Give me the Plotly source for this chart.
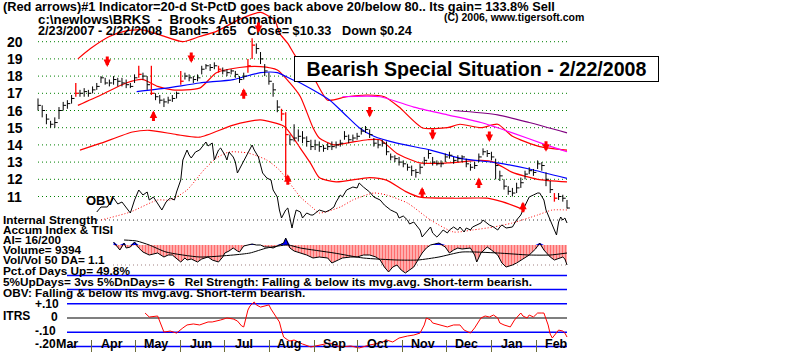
import numpy as np
import pandas as pd
import plotly.graph_objects as go

# ---------------- data ----------------
START = pd.Timestamp("2007-02-23")
END = pd.Timestamp("2008-02-22")
N_TRADING = 252  # trading days in the window

# price bars, one every 2 trading days
CLOSE = [16.3,16.0,15.5,15.2,15.3,16.0,16.3,16.4,16.7,17.0,
         17.0,17.1,17.0,17.2,17.4,17.9,17.6,17.6,17.8,17.7,
         17.6,17.5,17.4,17.9,18.1,18.0,17.5,17.0,16.8,16.6,
         16.5,16.6,16.7,17.0,17.7,18.0,17.9,17.8,17.9,18.4,
         18.6,18.5,18.6,18.4,18.3,18.2,18.3,18.1,17.8,18.0,
         18.6,19.8,19.6,19.0,18.3,17.7,17.2,16.2,15.8,14.6,
         14.3,14.4,14.5,14.4,14.2,13.9,14.0,13.9,13.8,13.9,
         13.9,14.0,14.1,14.5,14.3,14.4,14.5,14.8,14.9,14.6,
         14.1,14.0,14.1,13.6,13.3,13.2,13.0,12.9,12.7,12.5,
         12.4,12.7,13.1,13.5,13.0,12.9,12.9,13.3,13.4,13.1,
         13.2,13.3,12.9,12.7,12.8,13.3,13.6,13.5,13.3,12.8,
         12.2,11.6,11.3,11.2,11.5,11.8,12.3,12.5,12.4,12.9,
         12.8,12.0,11.4,10.9,11.0,10.9,10.33]
HIGH = [16.7,16.3,15.8,15.4,15.6,16.2,16.5,16.6,16.9,17.6,
        17.2,17.3,17.2,17.4,17.6,18.0,17.9,17.8,18.0,17.9,
        17.9,17.8,17.6,18.1,18.6,18.2,18.0,18.6,17.0,16.9,
        16.7,16.8,16.9,17.1,18.3,18.2,18.1,18.0,18.1,18.6,
        18.7,18.7,18.8,18.6,18.5,18.4,18.4,18.3,18.0,18.2,
        19.0,20.2,19.9,19.4,18.7,18.2,17.6,16.6,16.1,15.9,
        14.6,15.2,14.9,14.8,14.5,14.3,14.3,14.2,14.0,14.1,
        14.2,14.2,14.3,14.8,14.6,14.6,14.7,15.0,15.1,14.9,
        14.4,14.3,14.3,14.2,13.5,13.4,13.3,13.1,12.9,12.8,
        12.6,12.9,13.3,13.7,13.3,13.1,13.1,13.5,13.6,13.3,
        13.4,13.4,13.2,12.9,13.0,13.5,13.8,13.7,13.6,13.2,
        12.5,12.0,11.6,11.5,11.8,12.1,12.5,12.7,12.6,13.1,
        13.0,12.4,11.9,11.2,11.2,11.1,10.8]
LOW = [16.0,15.6,15.2,15.0,15.0,15.5,16.0,16.1,16.4,16.8,
       16.8,16.8,16.8,17.0,17.2,17.6,17.5,17.4,17.5,17.4,
       17.4,17.3,17.3,17.6,17.9,17.8,17.2,16.9,16.6,16.4,
       16.2,16.4,16.5,16.7,17.5,17.8,17.7,17.6,17.7,18.1,
       18.4,18.3,18.4,18.2,18.1,18.0,18.1,17.9,17.6,17.8,
       18.2,19.0,19.3,18.7,18.0,17.5,16.8,15.9,15.4,12.0,
       14.0,14.2,14.2,14.1,13.9,13.7,13.7,13.6,13.6,13.7,
       13.7,13.8,13.9,14.3,14.1,14.2,14.3,14.6,14.7,14.4,
       13.9,13.8,13.9,13.4,13.1,13.0,12.8,12.7,12.5,12.2,
       12.1,12.3,12.8,13.2,12.8,12.8,12.7,13.0,13.2,12.9,
       13.0,13.0,12.7,12.5,12.6,13.0,13.4,13.3,13.1,12.0,
       11.9,11.4,11.1,11.0,11.2,11.5,12.0,12.3,12.2,12.6,
       12.5,11.6,11.2,10.7,10.8,10.7,10.3]
RED_BARS = [9, 24, 27, 34, 43, 50, 51, 58, 59, 123]

# band / moving-average lines (trading-day index, price)
UPPER_T = [19,25,34,41,49,58,69,77,85,96,106,113,115,119,123,130,138,147,157,165,172,183,195,201,211,219,226,239,252]
UPPER_V = [19.0,19.6,20.3,20.6,20.7,20.4,20.0,20.3,20.6,21.3,21.7,21.2,20.5,19.9,19.1,18.2,16.6,16.8,16.9,16.8,16.2,15.0,15.0,15.2,15.0,15.2,14.5,13.9,13.7]
MID_T = [19,30,42,50,57,64,77,85,96,106,114,120,125,131,134,141,149,157,163,171,182,195,211,217,226,238,252]
MID_V = [16.3,16.9,17.6,17.8,17.4,17.2,17.3,18.2,18.5,18.55,18.35,17.6,16.8,15.0,14.4,14.0,14.15,14.3,14.3,13.5,12.95,12.95,13.1,13.0,12.4,12.0,11.85]
LOWER_T = [20,30,45,53,66,77,93,106,117,120,125,130,134,142,158,166,175,182,198,214,221,228,232]
LOWER_V = [13.7,14.1,14.75,14.85,14.6,14.45,15.15,15.45,15.1,14.7,13.8,12.9,12.1,11.85,12.1,11.95,11.3,10.96,10.9,10.9,10.7,10.4,10.2]
BLUE_T = [47,61,77,93,106,114,121,125,139,146,153,160,171,187,202,219,234,252]
BLUE_V = [17.1,17.3,17.6,17.8,18.2,18.2,17.8,17.6,16.6,15.8,15.0,14.5,14.1,13.7,13.2,12.95,12.6,12.05]
MAG_T = [145,163,179,195,211,226,242,252]
MAG_V = [16.8,16.8,16.2,15.75,15.3,14.7,14.0,13.6]
PURP_T = [198,219,234,252]
PURP_V = [16.0,15.75,15.3,14.7]

# signal arrows (trading-day index, price at arrow tip)
DOWN_T = [33,73,105,158,188,215,242]
DOWN_P = [18.53,18.76,20.5,15.6,14.28,14.17,13.6]
UP_T = [55,98,119,183,210,231]
UP_P = [16.0,17.3,12.3,11.55,12.1,10.7]

# On-balance volume and its moving average (arbitrary units)
OBV_T = [28,30,33,36,38,40,44,46,48,50,52,53,55,57,59,61,63,65,66,68,
         69,71,72,73,75,77,79,80,81,83,84,86,87,89,90,91,93,94,95,97,
         99,101,102,103,105,107,109,111,112,114,115,116,118,119,120,121,122,123,125,126,
         128,130,131,133,134,137,139,141,142,144,145,147,149,150,152,153,155,157,158,160,
         161,163,165,166,168,170,171,172,174,176,177,179,181,182,183,185,187,188,190,191,
         193,195,196,198,200,201,203,204,206,207,209,211,212,214,215,217,219,220,221,223,
         225,226,228,230,231,233,234,236,238,239,241,242,244,245,247,248,249,250,251,252]
OBV_V = [28,33,33,42,36,38,27,40,50,45,48,40,43,36,30,38,42,40,48,60,
         80,90,85,82,88,90,95,98,94,97,80,90,92,85,80,88,83,78,67,75,
         83,90,95,90,83,67,62,60,50,43,30,22,30,32,20,12,22,30,28,22,
         27,25,25,28,30,28,30,33,38,45,43,50,52,53,52,57,53,50,48,43,
         42,40,35,33,30,28,27,22,24,20,16,18,13,10,3,8,13,7,3,5,
         10,7,10,13,10,13,8,12,10,13,15,17,20,17,15,13,10,13,15,12,
         13,13,20,25,30,38,43,45,47,47,40,30,20,15,5,18,23,20,22,17]
OBV_MA_T = [30,44,57,63,71,79,85,91,100,109,115,125,131,134,144,150,160,166,176,187,198,207,217,226,238,245,252]
OBV_MA_V = [20,28,40,40,50,70,82,88,87,80,70,43,32,27,33,40,47,45,37,20,8,10,13,17,25,30,30]

# Accumulation index (arbitrary units) and its average
AI_T = [36,38,39,41,42,44,46,48,50,53,57,60,62,64,66,68,70,71,73,76,
        78,81,83,86,88,89,91,93,95,96,98,100,102,104,106,108,110,112,114,117,
        118,120,122,125,128,131,134,138,140,143,145,149,152,155,158,161,163,165,167,169,
        171,173,175,177,179,181,183,185,187,189,191,194,196,198,200,202,206,208,209,211,
        214,216,219,221,223,226,228,231,234,237,239,241,244,246,249,250,251,252]
AI_V = [3,-2,-5,2,-3,-2,3,-3,-7,-10,-8,-12,-10,-10,-14,-17,-13,-15,-14,-17,
        -14,-12,-15,-17,-12,-8,-6,-3,-6,-7,-1,0,1,0,0,-2,-2,-3,-1,2,
        7,-3,-6,-8,-10,-13,-12,-13,-18,-15,-13,-12,-12,-10,-10,-12,-15,-22,-27,-22,
        -20,-25,-28,-25,-22,-15,-8,-3,0,1,2,-2,-8,-5,-3,-4,-3,-10,-17,-8,
        -2,-5,-10,-18,-22,-20,-18,-14,-10,-4,2,-5,-12,-15,-13,-12,-14,-20]
AI_MA_T = [41,47,53,61,77,93,101,109,119,125,141,155,171,181,191,202,219,234,244,252]
AI_MA_V = [5,4,0,-7,-12,-10,-8,-3,0,-3,-8,-13,-15,-15,-12,-7,-8,-10,-10,-8]

# ITRS (relative strength)
ITRS_T = [51,53,57,60,63,66,69,71,74,77,81,83,87,90,93,95,97,98,100,101,
          103,104,106,108,110,111,113,115,116,117,119,120,122,124,126,130,134,139,144,149,
          153,158,163,166,169,172,176,179,182,184,185,187,188,191,195,198,201,203,206,208,
          211,213,215,217,219,220,222,225,227,230,231,233,234,236,238,240,241,243,244,245,
          247,248,250,251,252]
ITRS_V = [0.035,0.007,0.014,-0.099,-0.092,-0.106,-0.07,-0.049,-0.042,-0.049,
          -0.028,-0.028,-0.014,0,-0.007,-0.021,-0.056,-0.063,0.056,0.085,
          0.113,0.092,0.077,0.085,0.092,0.063,0.014,-0.028,-0.085,-0.134,
          -0.155,-0.162,-0.155,-0.169,-0.183,-0.204,-0.19,-0.176,-0.204,-0.197,
          -0.211,-0.19,-0.176,-0.155,-0.169,-0.141,-0.127,-0.12,-0.106,-0.049,
          0,-0.014,-0.035,-0.049,-0.063,-0.049,-0.049,-0.085,-0.106,-0.07,
          0,0.014,0.007,0.021,0,-0.035,-0.049,-0.063,-0.014,0.035,
          0.014,0,0.021,0.007,0.035,0.035,0.035,-0.049,-0.113,-0.141,
          -0.099,-0.085,-0.092,-0.106,-0.134]

PRICE_TICKS = [20, 19, 18, 17, 16, 15, 14, 13, 12, 11]
ITRS_LEVELS_BLUE = [0.3, 0.2, 0.1, -0.1, -0.2]
MONTH_STARTS = pd.date_range("2007-03-01", "2008-02-01", freq="MS")

# ---------------- helpers ----------------
W, H = 800, 352
FONT = "Arial, Liberation Sans, sans-serif"
NB = "\u00a0"


def tdate(t):
    t = np.asarray(list(t), dtype=float)
    return START + pd.to_timedelta(t * (END - START).days / N_TRADING, unit="D")


def px(x):
    return x / W


def py(y):
    return 1 - y / H


def label(text, x, y, size=12, anchor="left"):
    return dict(text=text, x=px(x), y=py(y), xref="paper", yref="paper",
                xanchor=anchor, yanchor="middle", showarrow=False,
                font=dict(family=FONT, size=size, color="black", weight="bold"))


fig = go.Figure()


def line(T, V, color, width=1, dash=None, yaxis="y", shape="spline"):
    fig.add_trace(go.Scatter(x=tdate(T), y=V, mode="lines", yaxis=yaxis,
                             line=dict(color=color, width=width, dash=dash,
                                       shape=shape, smoothing=0.6),
                             hoverinfo="skip"))


# ---- moving averages / bands (price axis) ----
line(UPPER_T, UPPER_V, "#ff0000", 1.2)
line(MID_T, MID_V, "#ff0000", 1.2)
line(LOWER_T, LOWER_V, "#ff0000", 1.2)
line(BLUE_T, BLUE_V, "#0000ff", 1.2)
line(MAG_T, MAG_V, "#ff00ff", 1.2)
line(PURP_T, PURP_V, "#800080", 1.2)

# ---- price bars ----
bar_dates = tdate(np.arange(len(CLOSE)) * 2)
tick = pd.Timedelta(days=2)


def bar_xy(idx):
    xs, ys = [], []
    for i in idx:
        d = bar_dates[i]
        xs += [d, d, None, d, d + tick, None]
        ys += [LOW[i], HIGH[i], None, CLOSE[i], CLOSE[i], None]
    return xs, ys


black_idx = [i for i in range(len(CLOSE)) if i not in RED_BARS]
bx, by = bar_xy(black_idx)
fig.add_trace(go.Scatter(x=bx, y=by, mode="lines", line=dict(color="black", width=1),
                         hoverinfo="skip"))
rx, ry = bar_xy(RED_BARS)
fig.add_trace(go.Scatter(x=rx, y=ry, mode="lines", line=dict(color="#ff0000", width=1.3),
                         hoverinfo="skip"))

# ---- OBV ----
line(OBV_MA_T, OBV_MA_V, "#ff0000", 1, dash="1px,2px", yaxis="y2")
line(OBV_T, OBV_V, "black", 1, yaxis="y2", shape="linear")

# ---- Accumulation index ----
ai_neg = np.minimum(np.array(AI_V, float), 0)
ai_pos = np.maximum(np.array(AI_V, float), 0)
fig.add_trace(go.Scatter(x=tdate(AI_T), y=ai_neg, yaxis="y3", mode="lines",
                         line=dict(width=0, color="red"), fill="tozeroy",
                         fillcolor="rgba(0,0,0,0)",
                         fillpattern=dict(shape="|", fgcolor="#ff0000", bgcolor="#ffd8d8",
                                          size=3, solidity=0.6),
                         hoverinfo="skip"))
fig.add_trace(go.Scatter(x=tdate(AI_T), y=ai_pos, yaxis="y3", mode="lines",
                         line=dict(width=0, color="blue"), fill="tozeroy",
                         fillcolor="#0000ff", hoverinfo="skip"))
line(AI_MA_T, AI_MA_V, "black", 1, yaxis="y3")
line(AI_T, AI_V, "black", 1, yaxis="y3", shape="linear")

# ---- ITRS ----
line(ITRS_T, ITRS_V, "#ff0000", 1, yaxis="y4", shape="linear")

# ---------------- shapes ----------------
shapes = []
for p in PRICE_TICKS:
    shapes.append(dict(type="line", xref="paper", yref="y", x0=px(38), x1=px(567),
                       y0=p, y1=p, line=dict(color="#008000", width=1, dash="1px,3px"),
                       layer="below"))
shapes.append(dict(type="line", xref="paper", yref="y2", x0=px(97), x1=px(567), y0=20, y1=20,
                   line=dict(color="#333333", width=1, dash="1px,3px"), layer="below"))
shapes.append(dict(type="line", xref="paper", yref="y3", x0=px(113), x1=px(567), y0=-20, y1=-20,
                   line=dict(color="#a08080", width=1, dash="1px,3px"), layer="below"))
for lv in ITRS_LEVELS_BLUE:
    shapes.append(dict(type="line", xref="paper", yref="y4", x0=px(67), x1=px(567), y0=lv, y1=lv,
                       line=dict(color="#0000ff", width=1.5), layer="below"))
shapes.append(dict(type="line", xref="paper", yref="y4", x0=px(67), x1=px(567), y0=0, y1=0,
                   line=dict(color="black", width=1.2), layer="below"))

# ---------------- annotations ----------------
ann = []
ann.append(label("(Red arrows)#1 Indicator=20-d St-PctD goes back above 20/below 80.. Its gain= 133.8% Sell",
                 1, 6.5, 12.8))
ann.append(label("c:\\newlows\\BRKS" + NB * 2 + "-" + NB * 2 + "Brooks Automation", 36, 20, 13.3))
ann.append(label("2/23/2007 - 2/22/2008" + NB * 2 + "Band= .165" + NB * 3 + "Close= $10.33" + NB * 3
                 + "Down $0.24", 36, 30.5, 12.7))
ann.append(label("(C) 2006, www.tigersoft.com", 442, 17, 10.5))

for p in PRICE_TICKS:
    ann.append(dict(text=str(p), x=px(5), y=p, xref="paper", yref="y", xanchor="left",
                    yanchor="middle", showarrow=False,
                    font=dict(family=FONT, size=14, color="black", weight="bold")))

ann.append(dict(text="Bearish Special Situation - 2/22/2008", x=px(476.5), y=py(69),
                xref="paper", yref="paper", xanchor="center", yanchor="middle",
                showarrow=False, bgcolor="white", bordercolor="black", borderwidth=1,
                borderpad=2, width=359, height=20,
                font=dict(family=FONT, size=19.6, color="black", weight="bold")))

ann.append(label("OBV", 84, 200, 13))
left_block = [("Internal Strength", 220), ("Accum Index & TISI", 230), ("AI= 16/200", 240),
              ("Volume= 9394", 250), ("Vol/Vol 50 DA= 1.1", 260),
              ("Pct.of Days Up= 49.8%", 270.5),
              ("5%UpDays= 3vs 5%DnDays= 6" + NB * 3
               + "Rel Strength: Falling & below its mvg.avg. Short-term bearish.", 281.5),
              ("OBV: Falling & below its mvg.avg. Short-term bearish.", 293)]
for t, yy in left_block:
    ann.append(label(t, 1, yy, 11.8))

ann.append(label("+.10", 33, 303.5, 12))
ann.append(label("ITRS", 1, 316, 12))
ann.append(label("0", 49, 317, 12))
ann.append(label("-.10", 33, 331, 12))
ann.append(label("-.20", 33, 344, 12))

for d in MONTH_STARTS:
    ann.append(dict(text=d.strftime("%b"), x=d + pd.Timedelta(days=14), y=py(344),
                    xref="x", yref="paper", xanchor="center", yanchor="middle",
                    showarrow=False,
                    font=dict(family=FONT, size=12.5, color="black", weight="bold")))

down_dates = tdate(DOWN_T)
for d, p in zip(down_dates, DOWN_P):
    ann.append(dict(x=d, y=p, xref="x", yref="y", text="", showarrow=True, ax=0, ay=-12,
                    arrowhead=2, arrowsize=0.5, arrowwidth=3, arrowcolor="#ff0000", standoff=0))
up_dates = tdate(UP_T)
for d, p in zip(up_dates, UP_P):
    ann.append(dict(x=d, y=p, xref="x", yref="y", text="", showarrow=True, ax=0, ay=12,
                    arrowhead=2, arrowsize=0.5, arrowwidth=3, arrowcolor="#ff0000", standoff=0))

# ---------------- axes ----------------
ppd = (567 - 38) / (END - START).days  # pixels per calendar day
x_left = START - pd.Timedelta(days=38 / ppd)
x_right = END + pd.Timedelta(days=(W - 567) / ppd)

price_top = 20 + 41.7 / 17.2
price_bot = 20 - (H - 41.7) / 17.2

fig.update_layout(
    width=W, height=H, margin=dict(l=0, r=0, t=0, b=0),
    paper_bgcolor="white", plot_bgcolor="white", showlegend=False,
    xaxis=dict(type="date", range=[x_left, x_right], showgrid=False, zeroline=False,
               showline=False, tickvals=list(MONTH_STARTS[1:]), ticks="inside", ticklen=12,
               tickcolor="#6b6b3a", tickwidth=1, showticklabels=False, fixedrange=True),
    yaxis=dict(range=[price_bot, price_top], visible=False, fixedrange=True),
    yaxis2=dict(range=[240 - H, 240], overlaying="y", visible=False, fixedrange=True),
    yaxis3=dict(range=[245 - H, 245], overlaying="y", visible=False, fixedrange=True),
    yaxis4=dict(range=[-(H - 318) / 142, 318 / 142], overlaying="y", visible=False,
                fixedrange=True),
    shapes=shapes, annotations=ann,
)

fig.write_html("out.html")
